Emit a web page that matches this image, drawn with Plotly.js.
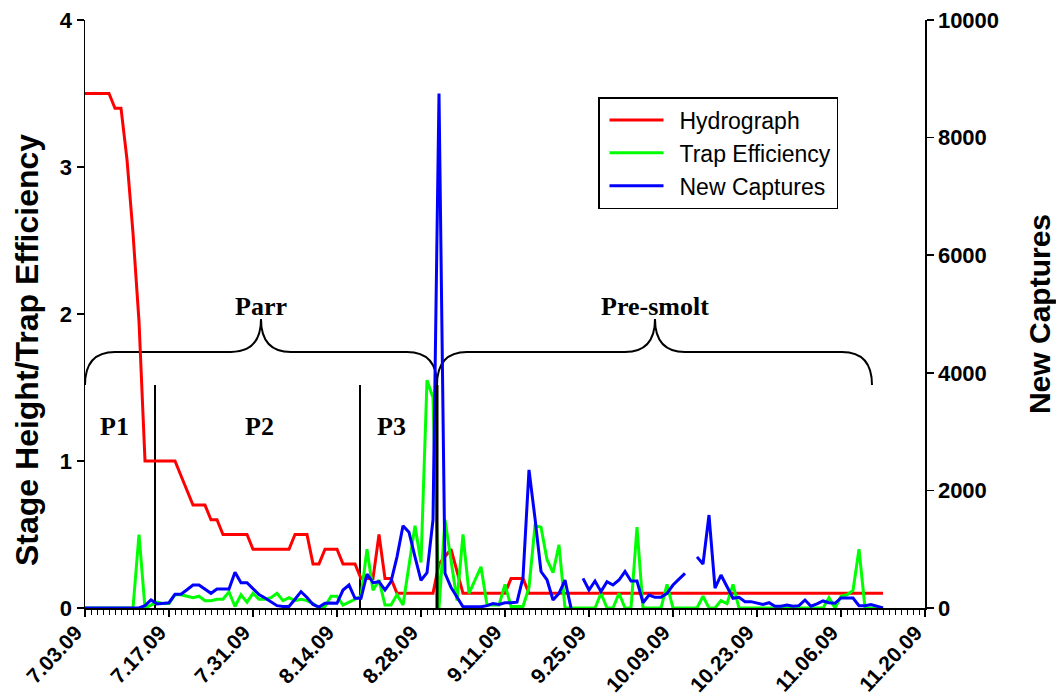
<!DOCTYPE html>
<html>
<head>
<meta charset="utf-8">
<script src="https://cdn.plot.ly/plotly-3.0.1.min.js"></script>
<style>
  html, body { margin: 0; padding: 0; background: #ffffff; }
  #chart { width: 1056px; height: 696px; }
</style>
</head>
<body>
<div id="chart"></div>
<script>
// ---- data (daily, starting 7.03.09) ----
const startDate = '2009-07-03';

const hydrograph = [
  3.5, 3.5, 3.5, 3.5, 3.5, 3.4, 3.4, 3.05, 2.55, 1.95,
  1.0, 1.0, 1.0, 1.0, 1.0, 1.0, 0.9, 0.8, 0.7, 0.7,
  0.7, 0.6, 0.6, 0.5, 0.5, 0.5, 0.5, 0.5, 0.4, 0.4,
  0.4, 0.4, 0.4, 0.4, 0.4, 0.5, 0.5, 0.5, 0.3, 0.3,
  0.4, 0.4, 0.4, 0.3, 0.3, 0.3, 0.2, 0.2, 0.2, 0.5,
  0.2, 0.2, 0.1, 0.1, 0.1, 0.1, 0.1, 0.1, 0.1, 0.3,
  0.35, 0.4, 0.25, 0.1, 0.1, 0.1, 0.1, 0.1, 0.1, 0.1,
  0.1, 0.2, 0.2, 0.2, 0.1, 0.1, 0.1, 0.1, 0.1, 0.1,
  0.1, 0.1, 0.1, 0.1, 0.1, 0.1, 0.1, 0.1, 0.1, 0.1,
  0.1, 0.1, 0.1, 0.1, 0.1, 0.1, 0.1, 0.1, 0.1, 0.1,
  0.1, 0.1, 0.1, 0.1, 0.1, 0.1, 0.1, 0.1, 0.1, 0.1,
  0.1, 0.1, 0.1, 0.1, 0.1, 0.1, 0.1, 0.1, 0.1, 0.1,
  0.1, 0.1, 0.1, 0.1, 0.1, 0.1, 0.1, 0.1, 0.1, 0.1,
  0.1, 0.1, 0.1, 0.1
];

const trapEfficiency = [
  0, 0, 0, 0, 0, 0, 0, 0, 0, 0.5,
  0, 0.02, 0.04, 0.03, 0.03, 0.09, 0.09, 0.08, 0.07, 0.08,
  0.05, 0.05, 0.06, 0.06, 0.11, 0.01, 0.09, 0.04, 0.1, 0.06,
  0.06, 0.07, 0.1, 0.05, 0.07, 0.05, 0.06, 0.05, 0.03, 0,
  0.01, 0.08, 0.08, 0.02, 0.04, 0.06, 0.08, 0.4, 0.12, 0.19,
  0.02, 0.02, 0.09, 0.02, 0.29, 0.56, 0.31, 1.55, 1.43, 0,
  0.6, 0.33, 0.05, 0.5, 0.1, 0.19, 0.28, 0.02, 0.02, 0.02,
  0.16, 0.01, 0.01, 0.01, 0.14, 0.56, 0.55, 0.33, 0.24, 0.43,
  0, 0, 0, 0, 0, 0, 0.1, 0, 0, 0.1,
  0, 0, 0.55, 0, 0, 0, 0, 0.16, 0, 0,
  0, 0, 0, 0.08, 0, 0, 0.05, 0.03, 0.16, 0,
  0, 0, 0, 0, 0, 0, 0, 0, 0, 0,
  0, 0, 0, 0, 0.07, 0, 0.08, 0.09, 0.12, 0.4,
  0, 0, 0, 0
];

const newCaptures = [
  0, 0, 0, 0, 0, 0, 0, 0, 0, 0,
  40, 136, 70, 80, 90, 233, 233, 310, 391, 391,
  320, 250, 323, 323, 323, 607, 430, 430, 330, 230,
  170, 110, 40, 25, 25, 150, 278, 180, 60, 15,
  80, 85, 80, 306, 391, 165, 165, 578, 430, 447,
  306, 450, 870, 1400, 1290, 870, 470, 600, 1497, 8750,
  590, 350, 190, 20, 20, 20, 20, 40, 75, 60,
  90, 90, 100, 520, 2350, 1525, 620, 480, 136, 250,
  476, 0, null, 505, 306, 459, 278, 447, 391, 476,
  620, 459, 459, 90, 221, 182, 182, 250, 391, 490,
  590, null, 870, 748, 1581, 340, 561, 374, 165, 182,
  108, 108, 90, 60, 90, 30, 30, 50, 30, 40,
  136, 30, 70, 120, 90, 80, 170, 170, 170, 40,
  40, 60, 30, 0
];

const tickDates = ['2009-07-03','2009-07-17','2009-07-31','2009-08-14','2009-08-28',
  '2009-09-11','2009-09-25','2009-10-09','2009-10-23','2009-11-06','2009-11-20'];
const tickLabels = ['7.03.09','7.17.09','7.31.09','8.14.09','8.28.09','9.11.09',
  '9.25.09','10.09.09','10.23.09','11.06.09','11.20.09'];

const seriesNames = ['Hydrograph', 'Trap Efficiency', 'New Captures'];
const seriesColors = ['#ff0000', '#00ff00', '#0000ff'];
const leftTitle = 'Stage Height/Trap Efficiency';
const rightTitle = 'New Captures';

// daily date axis
function dayString(i) {
  const d = new Date(Date.UTC(2009, 6, 3 + i));
  return d.toISOString().slice(0, 10);
}
const dates = hydrograph.map((_, i) => dayString(i));

// ---- geometry helpers for annotation drawing (pixel -> paper) ----
const W = 1056, H = 696;
const M = { l: 85, r: 131, t: 20, b: 88 };
const PW = W - M.l - M.r, PH = H - M.t - M.b;
const px = x => (x - M.l) / PW;
const py = y => (H - M.b - y) / PH;
function pathFrom(points) {
  return points.map(p => {
    const cmd = p[0];
    const coords = [];
    for (let i = 1; i < p.length; i += 2) coords.push(px(p[i]).toFixed(5) + ',' + py(p[i + 1]).toFixed(5));
    return cmd + coords.join(' ');
  }).join(' ');
}
function brace(x0, xm, x1, yTip, yBar, yPeak, r) {
  return pathFrom([
    ['M', x0, yTip],
    ['Q', x0, yBar, x0 + r, yBar],
    ['L', xm - r, yBar],
    ['Q', xm, yBar, xm, yPeak],
    ['Q', xm, yBar, xm + r, yBar],
    ['L', x1 - r, yBar],
    ['Q', x1, yBar, x1, yTip]
  ]);
}

const traces = [
  { x: dates, y: hydrograph, name: seriesNames[0], type: 'scatter', mode: 'lines',
    line: { color: seriesColors[0], width: 3 }, yaxis: 'y' },
  { x: dates, y: trapEfficiency, name: seriesNames[1], type: 'scatter', mode: 'lines',
    line: { color: seriesColors[1], width: 3 }, yaxis: 'y' },
  { x: dates, y: newCaptures, name: seriesNames[2], type: 'scatter', mode: 'lines',
    line: { color: seriesColors[2], width: 3 }, yaxis: 'y2', connectgaps: false }
];

const sans = 'Liberation Sans, Arial, sans-serif';
const tickFont = { family: sans, size: 22, color: '#000', weight: 'bold' };
const xTickFont = { family: sans, size: 21, color: '#000', weight: 'bold' };
const titleFont = { family: sans, size: 30, color: '#000', weight: 'bold' };
const serif = { family: 'Liberation Serif, Times New Roman, serif', size: 26, color: '#000', weight: 'bold' };

const lineStyle = { color: '#000', width: 2 };
const shapes = [
  { type: 'path', xref: 'paper', yref: 'paper', path: brace(85, 261, 437, 385, 352, 319, 30), line: lineStyle, layer: 'below' },
  { type: 'path', xref: 'paper', yref: 'paper', path: brace(437, 655, 872, 385, 352, 319, 30), line: lineStyle, layer: 'below' },
  { type: 'line', xref: 'paper', yref: 'paper', x0: px(155), x1: px(155), y0: py(385), y1: 0, line: lineStyle, layer: 'below' },
  { type: 'line', xref: 'paper', yref: 'paper', x0: px(360), x1: px(360), y0: py(385), y1: 0, line: lineStyle, layer: 'below' },
  { type: 'line', xref: 'paper', yref: 'paper', x0: px(437), x1: px(437), y0: py(385), y1: 0, line: { color: '#000', width: 3 }, layer: 'above' }
];

function label(text, x, y) {
  return { text: text, x: px(x), y: py(y), xref: 'paper', yref: 'paper', showarrow: false,
    xanchor: 'center', yanchor: 'middle', font: serif };
}
const annotations = [
  label('Parr', 261, 306),
  label('Pre-smolt', 655, 306),
  label('P1', 114, 426),
  label('P2', 259, 426),
  label('P3', 391, 426),
  { text: leftTitle, x: px(27), y: py(350), xref: 'paper', yref: 'paper', showarrow: false,
    xanchor: 'center', yanchor: 'middle', textangle: -90,
    font: { family: sans, size: 32, color: '#000', weight: 'bold' } }
];
// rotated date labels placed at the x-axis tick positions
tickDates.forEach((d, i) => {
  annotations.push({
    text: tickLabels[i], x: d, xref: 'x', y: py(618), yref: 'paper',
    showarrow: false, textangle: -47, xanchor: 'right', yanchor: 'top',
    xshift: 4, font: xTickFont
  });
});

const layout = {
  width: W, height: H,
  margin: M,
  paper_bgcolor: '#ffffff', plot_bgcolor: '#ffffff',
  showlegend: true,
  legend: {
    x: px(598), y: py(97), xanchor: 'left', yanchor: 'top',
    bordercolor: '#000', borderwidth: 1.5, bgcolor: '#ffffff',
    font: { family: sans, size: 23, color: '#000' },
    itemwidth: 70, tracegroupgap: 0
  },
  xaxis: {
    type: 'date',
    range: ['2009-07-03', '2009-11-20'],
    tickmode: 'array', tickvals: tickDates, ticktext: tickLabels,
    showticklabels: false,
    ticks: 'outside', ticklen: 7, tickwidth: 1.5, tickcolor: '#000',
    minor: { tickmode: 'linear', tick0: '2009-07-03', dtick: 86400000, ticks: 'outside', ticklen: 5, tickwidth: 1, tickcolor: '#000', showgrid: false },
    showline: true, linecolor: '#000', linewidth: 1.5,
    showgrid: false, zeroline: false
  },
  yaxis: {
    range: [0, 4], tickmode: 'linear', tick0: 0, dtick: 1,
    ticks: 'outside', ticklen: 7, tickwidth: 1.5, tickcolor: '#000',
    tickfont: tickFont,
    showline: true, linecolor: '#000', linewidth: 1.5,
    showgrid: false, zeroline: false
  },
  yaxis2: {
    overlaying: 'y', side: 'right',
    range: [0, 10000], tickmode: 'linear', tick0: 0, dtick: 2000, tickformat: 'd',
    ticks: 'outside', ticklen: 7, tickwidth: 1.5, tickcolor: '#000',
    tickfont: tickFont,
    showline: true, linecolor: '#000', linewidth: 1.5,
    showgrid: false, zeroline: false,
    title: { text: rightTitle, font: titleFont, standoff: 32 }
  },
  shapes: shapes,
  annotations: annotations
};

Plotly.newPlot('chart', traces, layout, { displayModeBar: false, staticPlot: true }).then(() => {
  // lengthen the legend line samples to match the reference
  document.querySelectorAll('.legend .legendlines path').forEach(p => p.setAttribute('d', 'M10,0h54'));
});
</script>
</body>
</html>
